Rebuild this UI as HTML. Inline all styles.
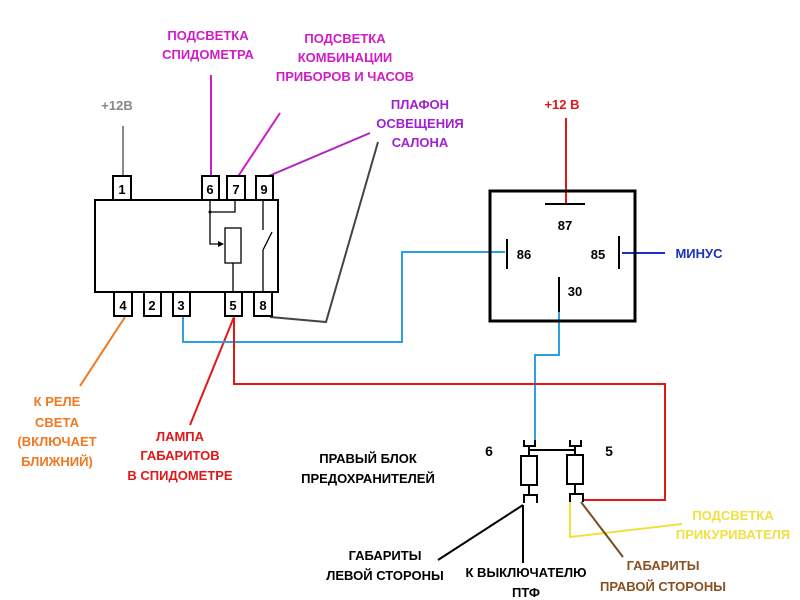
<!DOCTYPE html>
<html><head><meta charset="utf-8"><style>
html,body{margin:0;padding:0;background:#fff;}
svg{display:block;}
text{font-family:"Liberation Sans","Noto Sans CJK SC",sans-serif;font-weight:bold;font-size:13px;text-anchor:middle;}
</style></head><body>
<svg width="800" height="600" viewBox="0 0 800 600">
<!-- wires -->
<g fill="none" stroke-width="2">
<polyline points="123,126 123,178" stroke="#888"/>
<polyline points="211,75 211,178" stroke="#d01cc8"/>
<polyline points="237,178 280,113" stroke="#d01cc8"/>
<polyline points="264,178 370,133" stroke="#b020c0"/>
<polyline points="270,317 326,322 378,142" stroke="#444"/>
<polyline points="125,317 80,386" stroke="#f07820"/>
<polyline points="234,317 190,425" stroke="#e01818"/>
<polyline points="183,315 183,342 402,342 402,252 505,252" stroke="#2aa0e0"/>
<polyline points="559,312 559,355 535,355 535,446" stroke="#2aa0e0"/>
<polyline points="234,318 234,384 665,384 665,500 582,500" stroke="#e01818"/>
<polyline points="566,118 566,204" stroke="#e01818"/>
<polyline points="622,253 665,253" stroke="#1a30c0"/>
<polyline points="570,502 570,537 682,524" stroke="#f0e040"/>
<polyline points="581,502 623,557" stroke="#7a4a20"/>
<polyline points="523,505 438,560" stroke="#000"/>
<polyline points="523,505 523,563" stroke="#000"/>
</g>
<!-- left relay block -->
<g fill="#fff" stroke="#000" stroke-width="2">
<rect x="95" y="200" width="183" height="92"/>
<rect x="113" y="176" width="18" height="24"/>
<rect x="202" y="176" width="17" height="24"/>
<rect x="227" y="176" width="18" height="24"/>
<rect x="256" y="176" width="17" height="24"/>
<rect x="114" y="292" width="18" height="24"/>
<rect x="144" y="292" width="17" height="24"/>
<rect x="173" y="292" width="17" height="24"/>
<rect x="225" y="292" width="17" height="24"/>
<rect x="254" y="292" width="18" height="24"/>
</g>
<g fill="none" stroke="#000" stroke-width="1.3">
<polyline points="235,200 235,212 210,212"/>
<polyline points="210,200 210,244 222,244"/>
<rect x="225" y="228" width="16" height="35"/>
<line x1="233" y1="263" x2="233" y2="292"/>
<line x1="263" y1="200" x2="263" y2="230"/>
<line x1="263" y1="250" x2="272" y2="232"/>
<line x1="263" y1="250" x2="263" y2="292"/>
</g>
<polygon points="224,244 218,241 218,247" fill="#000"/>
<circle cx="210" cy="212" r="1.5" fill="#000"/>
<g style="font-size:15px" fill="#000">
<text x="122" y="194">1</text><text x="210" y="194">6</text><text x="236" y="194">7</text><text x="264" y="194">9</text>
<text x="123" y="310">4</text><text x="152" y="310">2</text><text x="181" y="310">3</text><text x="233" y="310">5</text><text x="263" y="310">8</text>
</g>
<!-- right relay -->
<rect x="490" y="191" width="145" height="130" fill="none" stroke="#000" stroke-width="3"/>
<g stroke="#000" stroke-width="2">
<line x1="545" y1="204" x2="585" y2="204"/>
<line x1="507" y1="239" x2="507" y2="269"/>
<line x1="619" y1="236" x2="619" y2="269"/>
<line x1="559" y1="277" x2="559" y2="312"/>
</g>
<g style="font-weight:normal" fill="#000">
<text x="565" y="230">87</text><text x="524" y="259">86</text><text x="598" y="259">85</text><text x="575" y="296">30</text>
</g>
<!-- fuses -->
<g fill="none" stroke="#000" stroke-width="2">
<rect x="521" y="456" width="16" height="29"/>
<rect x="567" y="455" width="16" height="29"/>
<line x1="529" y1="450" x2="575" y2="450"/>
<polyline points="524,440 524,446 535,446 535,440"/>
<line x1="529" y1="446" x2="529" y2="456"/>
<polyline points="570,440 570,446 581,446 581,440"/>
<line x1="575" y1="446" x2="575" y2="455"/>
<line x1="529" y1="485" x2="529" y2="495"/>
<polyline points="524,503 524,495 537,495 537,503"/>
<line x1="575" y1="484" x2="575" y2="494"/>
<polyline points="570,502 570,494 583,494 583,502"/>
</g>
<text x="489" y="456" fill="#000" style="font-size:14px">6</text>
<text x="609" y="456" fill="#000" style="font-size:14px">5</text>
<!-- labels -->
<g fill="#d01cc8">
<text x="208" y="40">ПОДСВЕТКА</text><text x="208" y="59">СПИДОМЕТРА</text>
<text x="345" y="43">ПОДСВЕТКА</text><text x="345" y="62">КОМБИНАЦИИ</text><text x="345" y="81">ПРИБОРОВ И ЧАСОВ</text>
</g>
<g fill="#a020d0">
<text x="420" y="109">ПЛАФОН</text><text x="420" y="128">ОСВЕЩЕНИЯ</text><text x="420" y="147">САЛОНА</text>
</g>
<text x="117" y="110" fill="#888">+12В</text>
<text x="562" y="109" fill="#e01818">+12 В</text>
<text x="699" y="258" fill="#1a30c0">МИНУС</text>
<g fill="#f07820">
<text x="57" y="406">К РЕЛЕ</text><text x="57" y="427">СВЕТА</text><text x="57" y="446">(ВКЛЮЧАЕТ</text><text x="57" y="466">БЛИЖНИЙ)</text>
</g>
<g fill="#e01818">
<text x="180" y="441">ЛАМПА</text><text x="180" y="460">ГАБАРИТОВ</text><text x="180" y="480">В СПИДОМЕТРЕ</text>
</g>
<g fill="#000">
<text x="368" y="463">ПРАВЫЙ БЛОК</text><text x="368" y="483">ПРЕДОХРАНИТЕЛЕЙ</text>
<text x="385" y="560">ГАБАРИТЫ</text><text x="385" y="580">ЛЕВОЙ СТОРОНЫ</text>
<text x="526" y="577">К ВЫКЛЮЧАТЕЛЮ</text><text x="526" y="597">ПТФ</text>
</g>
<g fill="#f0e040">
<text x="733" y="520">ПОДСВЕТКА</text><text x="733" y="539">ПРИКУРИВАТЕЛЯ</text>
</g>
<g fill="#8a5020">
<text x="663" y="570">ГАБАРИТЫ</text><text x="663" y="591">ПРАВОЙ СТОРОНЫ</text>
</g>
</svg>
</body></html>
